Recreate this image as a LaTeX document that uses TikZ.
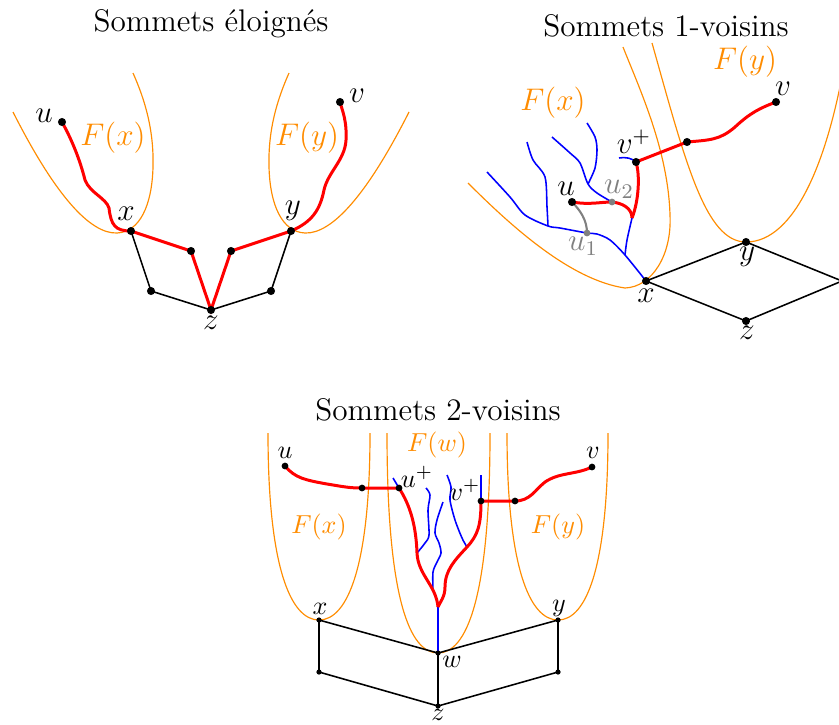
\documentclass[tikz,border=0pt]{standalone}
\usetikzlibrary{calc}
\definecolor{fcol}{RGB}{255,140,0}

\begin{document}
\begin{tikzpicture}[x=0.384pt, y=-0.384pt,
  region/.style={draw=fcol, line width=0.45pt},
  redpath/.style={draw=red, line width=1.15pt},
  tree/.style={draw=blue, line width=0.6pt},
  edge/.style={draw=black, line width=0.6pt},
  lab/.style={font=\large},
  flab/.style={font=\large, text=fcol},
  ttl/.style={font=\large}]
\useasboundingbox (0,0) rectangle (839,724);

% titres
\node[ttl] (t1) at (211,24) {Sommets éloignés};
\node[ttl] (t2) at (666,26) {Sommets 1-voisins};
\node[ttl] (t3) at (438,410) {Sommets 2-voisins};

% --- sommets eloignes
\coordinate (eu) at (62,122);
\coordinate (ex) at (131,231);
\coordinate (ey) at (291,231);
\coordinate (ev) at (340,102);
\coordinate (ez) at (211,310);
\coordinate (ea) at (191,251);
\coordinate (eb) at (231,251);
\coordinate (ec) at (151,291);
\coordinate (ed) at (271,291);

\draw[region] (13,112) .. controls (55,195) and (90,234) .. (117,233)
  .. controls (140,232) and (152,205) .. (153,167)
  .. controls (154,130) and (145,100) .. (133,73);
\draw[region] (409,112) .. controls (367,195) and (332,234) .. (305,233)
  .. controls (282,232) and (270,205) .. (269,167)
  .. controls (268,130) and (277,100) .. (289,73);

\draw[edge] (ex) -- (ec) -- (ez) -- (ed) -- (ey);
\draw[redpath] (eu) .. controls (72,140) and (80,160) .. (85,180)
  .. controls (90,193) and (106,198) .. (109,208)
  .. controls (111,225) and (115,231) .. (ex);
\draw[redpath] (ex) -- (ea) -- (ez) -- (eb) -- (ey);
\draw[redpath] (ey) .. controls (312,222) and (320,210) .. (324,190)
  .. controls (328,172) and (345,160) .. (346,140)
  .. controls (347,120) and (342,110) .. (ev);

\node[lab] (eul) at (44,116) {$u$};
\node[lab] (exl) at (126,214) {$x$};
\node[lab] (eyl) at (293,211) {$y$};
\node[lab] (ezl) at (211,323) {$z$};
\node[lab] (evl) at (357,96) {$v$};
\node[flab] (efx) at (113,138) {$F(x)$};
\node[flab] (efy) at (307,138) {$F(y)$};

% --- sommets 1-voisins
\coordinate (ox) at (646,281);
\coordinate (oy) at (746,242);
\coordinate (oz) at (746,321);
\coordinate (or) at (842,281);
\coordinate (ou) at (572,202);
\coordinate (ou1) at (587,233);
\coordinate (ou2) at (612,202);
\coordinate (ovp) at (636,162);
\coordinate (om) at (687,142);
\coordinate (ov) at (776,102);
\coordinate (oj) at (632,218);
\coordinate (ok) at (625,255);
\coordinate (ob) at (548,226);
\coordinate (oc) at (588,184);

\draw[region] (468,183) .. controls (510,225) and (570,280) .. (625,288)
  .. controls (652,287) and (672,255) .. (670,215)
  .. controls (668,150) and (640,90) .. (623,47);
\draw[region] (652,43) .. controls (685,160) and (705,242) .. (oy)
  .. controls (795,242) and (828,160) .. (845,60);

\draw[edge] (ox) -- (oy) -- (or) -- (oz) -- cycle;

\draw[tree] plot[smooth] coordinates {(ox) (ok) (610,240) (597,234) (ou1)
  (560,228) (ob) (525,215) (510,197) (487,172)};
\draw[tree] plot[smooth] coordinates {(ob) (547,207) (545,177) (533,160) (527,142)};
\draw[tree] plot[smooth] coordinates {(ou2) (597,193) (oc) (580,163) (570,153) (552,137)};
\draw[tree] plot[smooth] coordinates {(oc) (595,168) (597,150) (595,137) (587,123)};
\draw[tree] plot[smooth] coordinates {(oj) (627,240) (ok)};
\draw[tree] (619,158) .. controls (627,157) and (631,158) .. (ovp);
\draw[gray, line width=0.8pt] (ou) .. controls (580,210) and (587,220) .. (ou1);

\draw[redpath] (ou) .. controls (590,205) and (600,202) .. (ou2)
  .. controls (622,203) and (632,208) .. (oj);
\draw[redpath] (ovp) .. controls (640,175) and (639,200) .. (oj);
\draw[redpath] (ovp) -- (om) .. controls (710,140) and (720,140) .. (735,127)
  .. controls (750,113) and (760,108) .. (ov);

\node[lab] (oul) at (566,189) {$u$};
\node[lab, text=gray] (ou2l) at (619,189) {$u_2$};
\node[lab, text=gray] (ou1l) at (583,246) {$u_1$};
\node[lab] (ovpl) at (634,142) {$v^+$};
\node[lab] (ovl) at (783,89) {$v$};
\node[lab] (oxl) at (646,296) {$x$};
\node[lab] (oyl) at (747,257) {$y$};
\node[lab] (ozl) at (747,333) {$z$};
\node[flab] (ofx) at (553,103) {$F(x)$};
\node[flab] (ofy) at (745,62) {$F(y)$};

% --- sommets 2-voisins
\coordinate (tx) at (319,620);
\coordinate (ty) at (558,620);
\coordinate (tw) at (438,653);
\coordinate (tz) at (438,706);
\coordinate (tp) at (319,672);
\coordinate (tq) at (558,672);
\coordinate (tu) at (285,466);
\coordinate (tm) at (362,488);
\coordinate (tup) at (399,488);
\coordinate (tvp) at (481,501);
\coordinate (tn) at (515,501);
\coordinate (tv) at (592,467);
\coordinate (tj) at (438,607);
\coordinate (ta) at (417,553);
\coordinate (tb) at (433,590);
\coordinate (tc) at (467,547);

\draw[region] (268,433) .. controls (268,565) and (290,620) .. (tx)
  .. controls (348,620) and (370,565) .. (370,433);
\draw[region] (387,433) .. controls (387,600) and (410,653) .. (tw)
  .. controls (466,653) and (490,600) .. (490,433);
\draw[region] (507,433) .. controls (507,565) and (529,620) .. (ty)
  .. controls (587,620) and (608,565) .. (608,433);

\draw[edge] (tx) -- (tw) -- (ty) -- (tq) -- (tz) -- (tp) -- cycle;
\draw[edge] (tw) -- (tz);

\draw[tree] (tj) -- (tw);
\draw[tree] (393,478) -- (tup);
\draw[tree] (481,475) -- (tvp);
\draw[tree] plot[smooth] coordinates {(ta) (425,543) (429,535) (428,510) (430,495) (426,488)};
\draw[tree] plot[smooth] coordinates {(tb) (433,572) (437,562) (441,553) (439,543) (435,533) (437,520) (443,502)};
\draw[tree] plot[smooth] coordinates {(tc) (462,538) (455,520) (450,500) (451,487) (447,475)};

\draw[redpath] (tu) .. controls (295,478) and (305,480) .. (327,484)
  .. controls (345,487) and (350,488) .. (tm) -- (tup);
\draw[redpath] (tup) .. controls (410,505) and (416,525) .. (ta)
  .. controls (418,575) and (436,585) .. (tj);
\draw[redpath] (tvp) .. controls (481,525) and (478,535) .. (tc)
  .. controls (455,560) and (445,570) .. (445,587)
  .. controls (445,597) and (440,602) .. (tj);
\draw[redpath] (tvp) -- (tn) .. controls (530,501) and (535,490) .. (545,482)
  .. controls (560,472) and (575,475) .. (tv);

\node (tul) at (285,453) {$u$};
\node (tvl) at (593,453) {$v$};
\node (tupl) at (417,477) {$u^+$};
\node (tvpl) at (465,490) {$v^+$};
\node (txl) at (320,609) {$x$};
\node (tyl) at (559,608) {$y$};
\node (twl) at (452,662) {$w$};
\node (tzl) at (438,715) {$z$};
\node[text=fcol] (tfx) at (319,527) {$F(x)$};
\node[text=fcol] (tfw) at (437,445) {$F(w)$};
\node[text=fcol] (tfy) at (558,527) {$F(y)$};

% points
\foreach \p in {eu,ex,ey,ev,ez,ea,eb,ec,ed,ou,ox,oy,oz,ovp,om,ov}
  \fill (\p) circle[radius=1.55pt];
\foreach \p in {ou1,ou2}
  \fill[gray] (\p) circle[radius=1.3pt];
\foreach \p in {tu,tm,tup,tvp,tn,tv}
  \fill (\p) circle[radius=1.3pt];
\foreach \p in {tx,ty,tw,tz,tp,tq}
  \fill (\p) circle[radius=1pt];
\end{tikzpicture}
\end{document}
